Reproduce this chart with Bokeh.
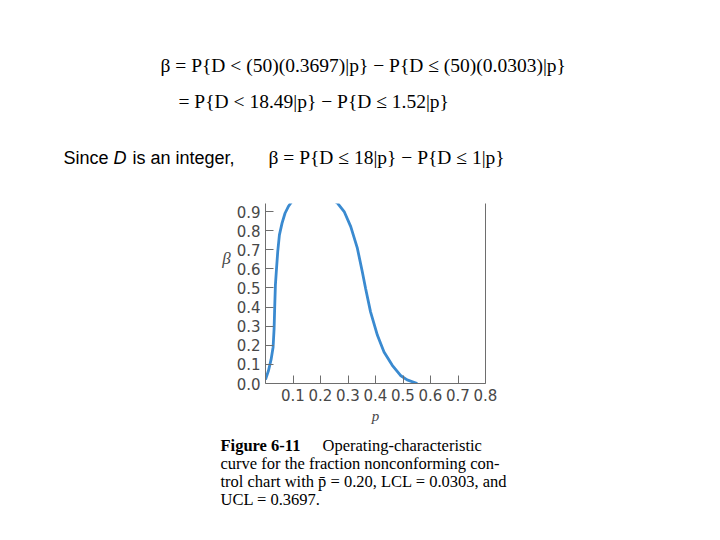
from bokeh.plotting import figure
from bokeh.models import Label, LinearAxis, FixedTicker, PrintfTickFormatter, Range1d
from bokeh.layouts import column, row
from bokeh.embed import file_html
from bokeh.resources import INLINE

# ---- data ----
p_values = [0.0, 0.011, 0.0204, 0.0276, 0.0313, 0.0337, 0.036, 0.0397, 0.0445, 0.0506,
            0.0602, 0.071, 0.083, 0.0977, 0.12, 0.16, 0.20, 0.23, 0.2616, 0.286, 0.31,
            0.334, 0.352, 0.364, 0.382, 0.407, 0.431, 0.461, 0.491, 0.515, 0.552]
beta_values = [0.02, 0.068, 0.126, 0.19, 0.287, 0.41, 0.515, 0.594, 0.69, 0.778,
               0.839, 0.891, 0.926, 0.956, 0.99, 1.0, 0.99, 0.975, 0.944, 0.90, 0.821,
               0.708, 0.585, 0.497, 0.375, 0.252, 0.165, 0.095, 0.042, 0.019, 0.0]
x_ticks = [0.1, 0.2, 0.3, 0.4, 0.5, 0.6, 0.7, 0.8]
y_ticks = [0.0, 0.1, 0.2, 0.3, 0.4, 0.5, 0.6, 0.7, 0.8, 0.9]

formula_line1 = "β = P{D < (50)(0.3697)|p} − P{D ≤ (50)(0.0303)|p}"
formula_line2 = "= P{D < 18.49|p} − P{D ≤ 1.52|p}"
since_parts = ["Since", "D", "is an integer,"]
formula_line3 = "β = P{D ≤ 18|p} − P{D ≤ 1|p}"
caption_bold = "Figure 6-11"
caption_lines = ["Operating-characteristic",
                 "curve for the fraction nonconforming con-",
                 "trol chart with p\u0304 = 0.20, LCL = 0.0303, and",
                 "UCL = 0.3697."]

X_MAX = 0.8
Y_MAX = 0.942
TOTAL_W = 712
TOP_H = 190          # page rows 0..190
MID_H = 240          # page rows 190..430
BOT_H = 102          # page rows 430..532
LEFT_W = 233         # page cols 0..233 for the beta label
SERIF = "Liberation Serif"
axis_color = "#6e6e6e"
label_color = "#484848"


def text_panel(w, h, x0, y0):
    """A figure whose frame is the whole canvas, in page pixel coordinates."""
    f = figure(width=w, height=h, output_backend="svg", toolbar_location=None,
               x_range=Range1d(x0, x0 + w), y_range=Range1d(y0 + h, y0),
               min_border=0, x_axis_location=None, y_axis_location=None,
               outline_line_color=None, background_fill_color="white",
               border_fill_color="white")
    f.grid.visible = False
    return f


def add_label(f, text, px, py, size, font=SERIF, style="normal",
              align="left", baseline="alphabetic", color="black"):
    f.add_layout(Label(x=px, y=py, text=text, text_font=font,
                       text_font_size=f"{size}px", text_font_style=style,
                       text_align=align, text_baseline=baseline, text_color=color))


# ---- top: formulas ----
top = text_panel(TOTAL_W, TOP_H, 0, 0)
add_label(top, formula_line1, 160, 65, 19.5)
add_label(top, formula_line2, 178, 101, 19.5)
add_label(top, since_parts[0], 63, 157, 18, font="Liberation Sans")
add_label(top, since_parts[1], 113, 157, 18, font="Liberation Sans", style="italic")
add_label(top, since_parts[2], 132, 157, 18, font="Liberation Sans")
add_label(top, formula_line3, 268, 157, 19.5)

# ---- middle left: beta label ----
beta_panel = text_panel(LEFT_W, MID_H, 0, TOP_H)
add_label(beta_panel, "β", 226, 263, 17, style="italic", align="center",
          baseline="middle", color=label_color)

# ---- middle right: the chart ----
frame_left, frame_right, frame_top, frame_bottom = 264, 485, 203, 383
chart_w = TOTAL_W - LEFT_W
p = figure(width=chart_w, height=MID_H, output_backend="svg", toolbar_location=None,
           x_range=Range1d(0, X_MAX), y_range=Range1d(0, Y_MAX),
           min_border_left=frame_left - LEFT_W,
           min_border_right=chart_w - (frame_right - LEFT_W),
           min_border_top=frame_top - TOP_H,
           min_border_bottom=TOP_H + MID_H - frame_bottom,
           background_fill_color="white", border_fill_color="white",
           outline_line_color=None)
p.grid.visible = False

p.line(p_values, beta_values, line_color="#3a8ad0", line_width=2.8)

for ax in (p.xaxis[0], p.yaxis[0]):
    ax.axis_line_color = axis_color
    ax.major_tick_line_color = axis_color
    ax.minor_tick_line_color = None
    ax.major_tick_in = 8
    ax.major_tick_out = 0
    ax.major_label_text_font = "DejaVu Sans"
    ax.major_label_text_font_size = "15px"
    ax.major_label_text_color = label_color
    ax.major_label_standoff = 5
p.xaxis[0].ticker = FixedTicker(ticks=x_ticks)
p.yaxis[0].ticker = FixedTicker(ticks=y_ticks)
p.xaxis[0].formatter = PrintfTickFormatter(format="%.1f")
p.yaxis[0].formatter = PrintfTickFormatter(format="%.1f")
p.xaxis[0].axis_label = "p"
p.xaxis[0].axis_label_text_font = SERIF
p.xaxis[0].axis_label_text_font_style = "italic"
p.xaxis[0].axis_label_text_font_size = "15px"
p.xaxis[0].axis_label_text_color = label_color
p.xaxis[0].axis_label_standoff = 4

right_axis = LinearAxis(axis_line_color=axis_color, major_tick_line_color=None,
                        minor_tick_line_color=None, major_label_text_font_size="0px",
                        ticker=FixedTicker(ticks=[]))
p.add_layout(right_axis, "right")

# ---- bottom: caption ----
bottom = text_panel(TOTAL_W, BOT_H, 0, TOP_H + MID_H)
add_label(bottom, caption_bold, 220, 445, 16.5, style="bold")
add_label(bottom, caption_lines[0], 322, 445, 16.5)
add_label(bottom, caption_lines[1], 220, 463, 16.5)
add_label(bottom, caption_lines[2], 220, 481, 16.5)
add_label(bottom, caption_lines[3], 220, 499, 16.5)

layout = column(top, row(beta_panel, p), bottom)
open("out.html", "w").write(file_html(layout, INLINE))
